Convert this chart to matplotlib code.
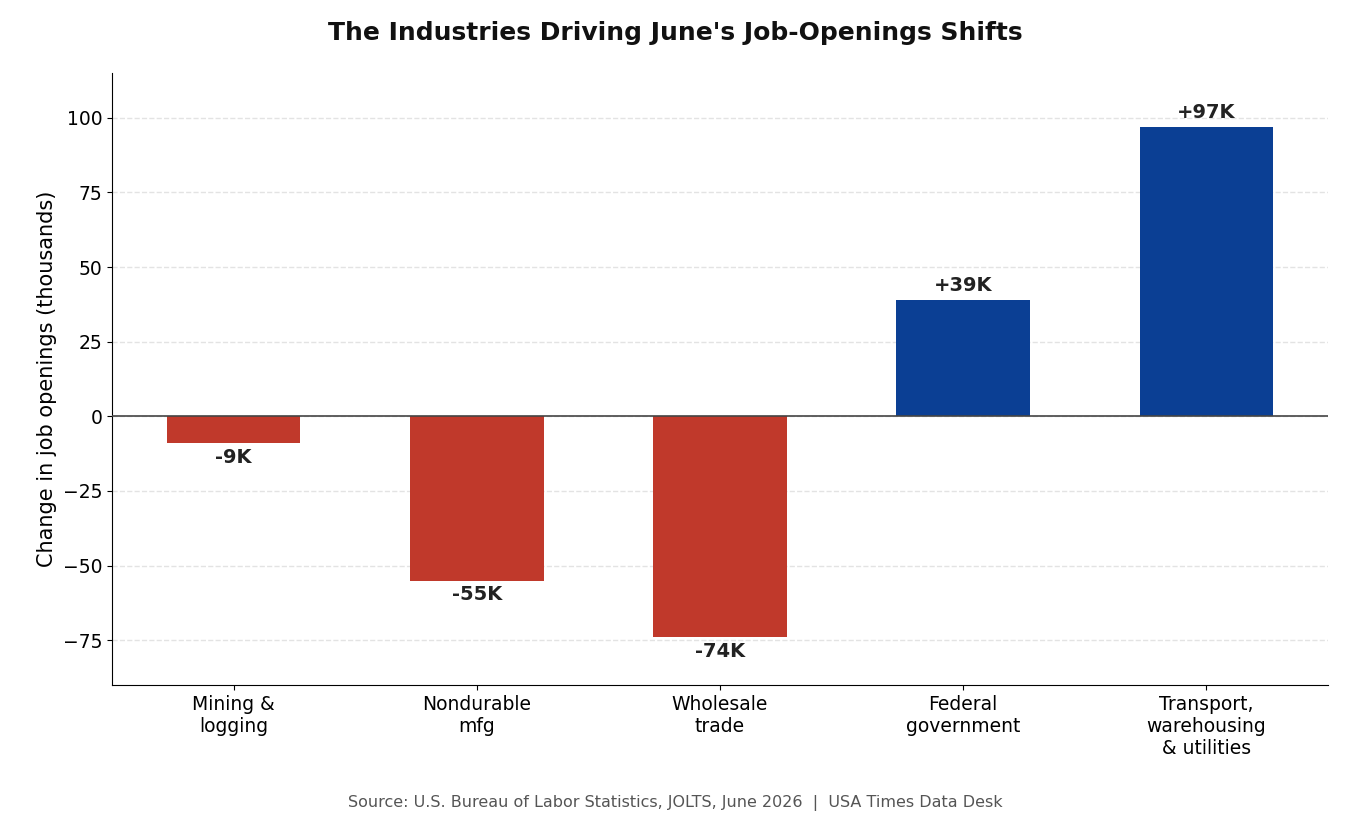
import matplotlib
matplotlib.use("Agg")
import matplotlib.pyplot as plt

categories = ["Mining &\nlogging", "Nondurable\nmfg", "Wholesale\ntrade", "Federal\ngovernment", "Transport,\nwarehousing\n& utilities"]
values = [-9, -55, -74, 39, 97]
labels = ["-9K", "-55K", "-74K", "+39K", "+97K"]

fig = plt.figure(figsize=(13.5, 8.25), dpi=100)
ax = fig.add_axes([112/1350, 1-685/825, (1328-112)/1350, (685-73)/825])
colors = ["#C0392B" if v < 0 else "#0B3F94" for v in values]
x = range(len(values))
ax.bar(x, values, width=0.55, color=colors, zorder=3)
for i, (v, l) in enumerate(zip(values, labels)):
    if v < 0:
        ax.text(i, v - 1.5, l, ha="center", va="top", fontsize=14, fontweight="bold", color="#222222")
    else:
        ax.text(i, v + 1.5, l, ha="center", va="bottom", fontsize=14, fontweight="bold", color="#222222")
ax.axhline(0, color="#444444", lw=1.2, zorder=4)
ax.set_ylim(-90, 115)
ax.set_xlim(-0.5, 4.5)
ax.set_yticks([-75, -50, -25, 0, 25, 50, 75, 100])
ax.set_xticks(list(x))
ax.set_xticklabels(categories, fontsize=13.5)
ax.tick_params(axis="y", labelsize=13.5)
ax.grid(axis="y", linestyle="--", color="#e3e3e3", lw=1, zorder=0)
ax.spines["top"].set_visible(False)
ax.spines["right"].set_visible(False)
ax.set_ylabel("Change in job openings (thousands)", fontsize=15)
fig.suptitle("The Industries Driving June's Job-Openings Shifts", fontsize=18, fontweight="bold", y=0.975, color="#111111")
fig.text(0.5, 0.017, "Source: U.S. Bureau of Labor Statistics, JOLTS, June 2026  |  USA Times Data Desk",
         ha="center", va="bottom", fontsize=11.5, color="#555555")
fig.savefig("out.png", dpi=100)
